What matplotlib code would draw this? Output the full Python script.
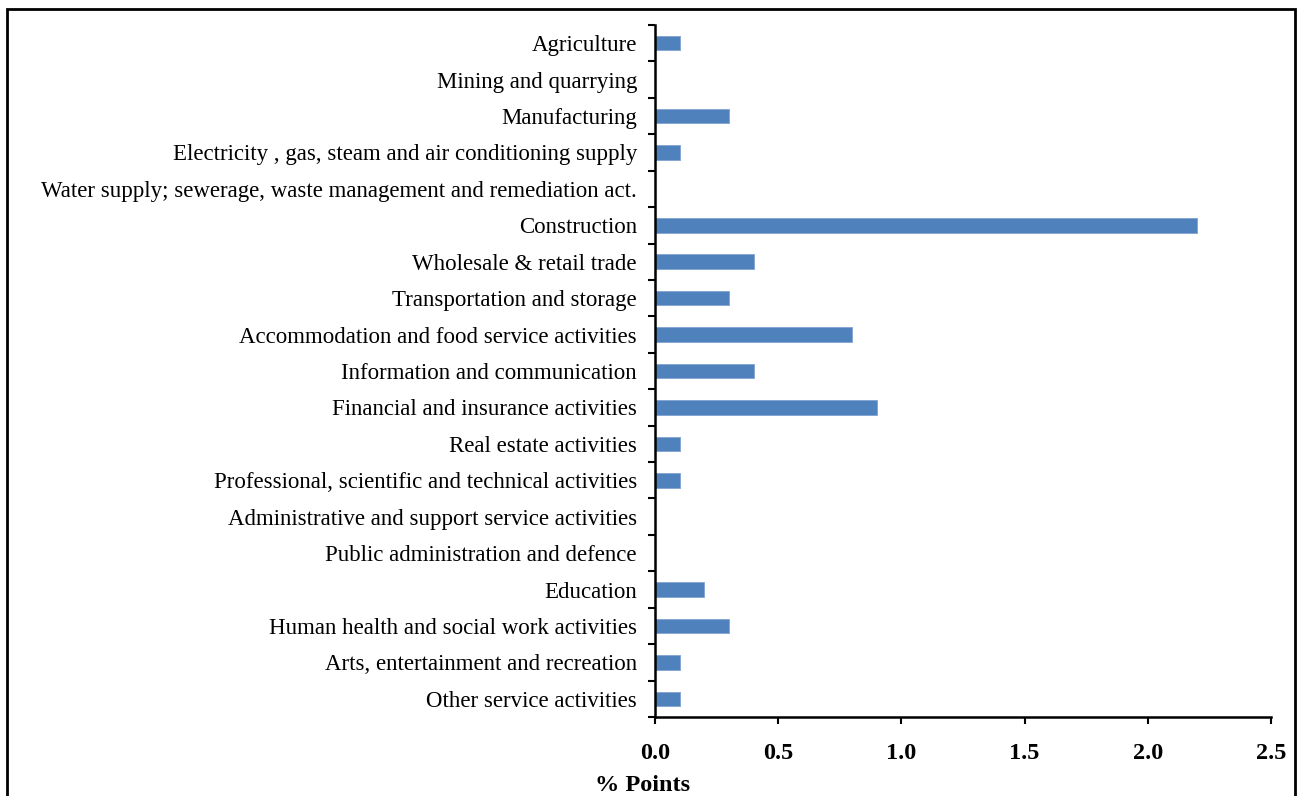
import matplotlib.pyplot as plt
from matplotlib.patches import Rectangle
import numpy as np

plt.rcParams['font.family'] = ['Liberation Serif', 'DejaVu Serif']

# Sector contributions, top to bottom as in the chart
sectors = [
    "Agriculture",
    "Mining and quarrying",
    "Manufacturing",
    "Electricity , gas, steam and air conditioning supply",
    "Water supply; sewerage, waste management and remediation act.",
    "Construction",
    "Wholesale & retail trade",
    "Transportation and storage",
    "Accommodation and food service activities",
    "Information and communication",
    "Financial and insurance activities",
    "Real estate activities",
    "Professional, scientific and technical activities",
    "Administrative and support service activities",
    "Public administration and defence",
    "Education",
    "Human health and social work activities",
    "Arts, entertainment and recreation",
    "Other service activities",
]
points = [0.1, 0.0, 0.3, 0.1, 0.0, 2.2, 0.4, 0.3, 0.8, 0.4,
          0.9, 0.1, 0.1, 0.0, 0.0, 0.2, 0.3, 0.1, 0.1]
x_ticks = [0.0, 0.5, 1.0, 1.5, 2.0, 2.5]

W, H = 1298, 796
fig = plt.figure(figsize=(W / 100, H / 100), dpi=100)
ax = fig.add_axes([655 / W, 1 - 717 / H, (1271 - 655) / W, (717 - 25) / H])

n = len(sectors)
pos = np.arange(n)
ax.barh(pos, points, height=0.4, color="#4F81BD", edgecolor="#7FA3D1", linewidth=0.6)

ax.set_ylim(n - 0.5, -0.5)
ax.set_xlim(0, 2.5)

# boundary ticks on the category axis, labels centred between them
ax.set_yticks(np.arange(n + 1) - 0.5)
ax.set_yticklabels([])
ax.set_yticks(pos, minor=True)
ax.set_yticklabels(sectors, minor=True, fontsize=16.5)
ax.tick_params(axis="y", which="major", direction="out", length=5, width=1.5)
ax.tick_params(axis="y", which="minor", length=0, pad=13)

ax.set_xticks(x_ticks)
ax.set_xticklabels([f"{t:.1f}" for t in x_ticks], fontsize=17.5, fontweight="bold")
ax.tick_params(axis="x", direction="out", length=5, width=1.5, pad=14)
ax.set_xlabel("% Points", fontsize=17.5, fontweight="bold", va="baseline")
ax.xaxis.set_label_coords((643 - 655) / 616, (717 - 791) / 692)

for side in ("top", "right"):
    ax.spines[side].set_visible(False)
for side in ("left", "bottom"):
    ax.spines[side].set_linewidth(1.8)

# frame around the whole chart
fig.add_artist(Rectangle((7 / W, -0.05), (1295 - 7) / W, 1.05 - 9 / H,
                         transform=fig.transFigure, fill=False,
                         edgecolor="black", linewidth=2))

fig.savefig("out.png", dpi=100)
